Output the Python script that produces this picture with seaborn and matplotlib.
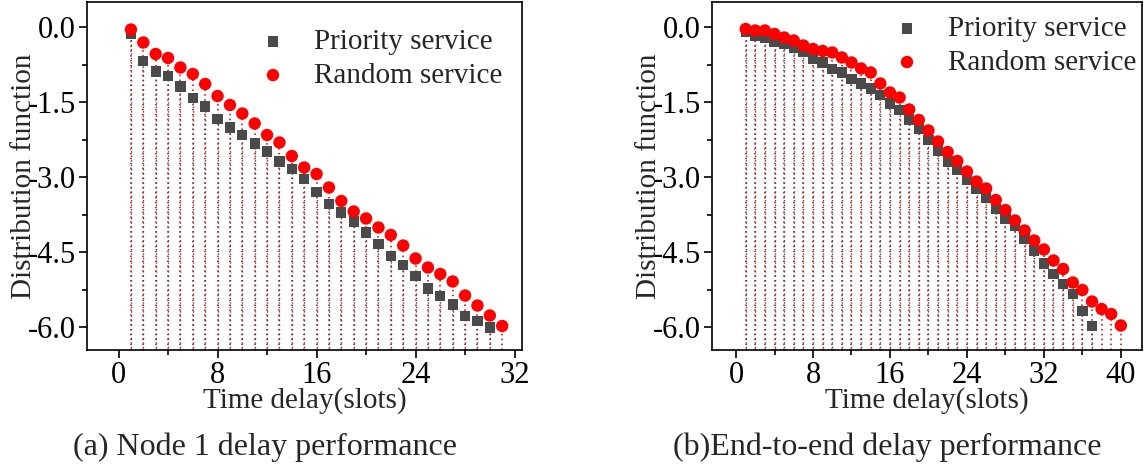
import numpy as np
import pandas as pd
import seaborn as sns
import matplotlib
matplotlib.use("Agg")
import matplotlib.pyplot as plt
from matplotlib.ticker import MultipleLocator, FormatStrFormatter

# ---------------- data ----------------
node_slots_priority = list(range(1, 31))
node_priority = [-0.14, -0.68, -0.89, -0.98, -1.19, -1.42, -1.59, -1.84, -2.01, -2.16,
                 -2.33, -2.49, -2.69, -2.84, -3.04, -3.30, -3.54, -3.71, -3.89, -4.11,
                 -4.34, -4.58, -4.76, -4.98, -5.23, -5.38, -5.55, -5.78, -5.88, -6.01]
node_slots_random = list(range(1, 32))
node_random = [-0.05, -0.31, -0.54, -0.62, -0.81, -0.94, -1.14, -1.38, -1.56, -1.73,
               -1.93, -2.16, -2.31, -2.58, -2.81, -2.94, -3.21, -3.48, -3.69, -3.83,
               -4.01, -4.16, -4.37, -4.63, -4.81, -4.94, -5.09, -5.37, -5.57, -5.77, -5.98]

e2e_slots_priority = list(range(1, 38))
e2e_priority = [-0.09, -0.17, -0.21, -0.29, -0.34, -0.41, -0.49, -0.63, -0.71, -0.84,
                -0.91, -1.04, -1.13, -1.23, -1.36, -1.53, -1.66, -1.85, -2.04, -2.26,
                -2.47, -2.69, -2.85, -3.05, -3.23, -3.41, -3.64, -3.83, -3.97, -4.23,
                -4.47, -4.73, -4.94, -5.14, -5.34, -5.68, -5.98]
e2e_slots_random = list(range(1, 41))
e2e_random = [-0.04, -0.07, -0.07, -0.14, -0.21, -0.27, -0.37, -0.44, -0.48, -0.51,
              -0.61, -0.71, -0.83, -0.91, -1.13, -1.31, -1.41, -1.65, -1.86, -2.07,
              -2.29, -2.50, -2.68, -2.89, -3.09, -3.23, -3.46, -3.66, -3.87, -4.07,
              -4.27, -4.45, -4.67, -4.84, -5.11, -5.26, -5.49, -5.64, -5.74, -5.97]

series_names = ["Priority service", "Random service"]
x_ticks_a = [0, 8, 16, 24, 32]
x_ticks_b = [0, 8, 16, 24, 32, 40]
y_ticks = [0.0, -1.5, -3.0, -4.5, -6.0]
x_label = "Time delay(slots)"
y_label = "Distribution function"
captions = ["(a) Node 1 delay performance", "(b)End-to-end delay performance"]

# ---------------- style ----------------
sns.set_theme(style="ticks")
plt.rcParams["font.family"] = ["Liberation Serif", "DejaVu Serif"]
plt.rcParams["axes.unicode_minus"] = False
FS = 21
TFS = 22

GRAY = "#4a4a4a"
RED = "#ff0000"

W, H = 1145, 474
fig = plt.figure(figsize=(W / 100, H / 100), dpi=100)
ax_a = fig.add_axes([87 / W, 1 - 350 / H, (522 - 87) / W, 348 / H])
ax_b = fig.add_axes([712 / W, 1 - 350 / H, (1142 - 712) / W, 348 / H])

YMIN, YMAX = -6.46, 0.5


def draw(ax, xp, yp, xr, yr, xlim, xticks, leg_px):
    # drop lines
    ax.vlines(xr, YMIN, yr, colors="#c00000", linestyles=(0, (1, 2.2)), linewidth=1.1, zorder=1)
    ax.vlines(xp, YMIN, yp, colors=GRAY, linestyles=(1.5, (1, 2.2)), linewidth=1.0, zorder=1)
    dfp = pd.DataFrame({"x": xp, "y": yp, "s": series_names[0]})
    dfr = pd.DataFrame({"x": xr, "y": yr, "s": series_names[1]})
    sns.scatterplot(data=dfp, x="x", y="y", ax=ax, marker="s", color=GRAY, s=55,
                    edgecolor="none", label=series_names[0], zorder=3)
    sns.scatterplot(data=dfr, x="x", y="y", ax=ax, marker="o", color=RED, s=80,
                    edgecolor="none", label=series_names[1], zorder=4)
    ax.set_xlim(*xlim)
    ax.set_ylim(YMIN, YMAX)
    ax.set_xticks(xticks)
    ax.set_yticks(y_ticks)
    ax.xaxis.set_minor_locator(MultipleLocator(4))
    ax.yaxis.set_minor_locator(MultipleLocator(0.75))
    ax.yaxis.set_major_formatter(FormatStrFormatter("%.1f"))
    ax.tick_params(axis="both", which="major", direction="out", length=6, width=1.2,
                   labelsize=TFS, color="black", labelcolor="black", pad=2)
    ax.tick_params(axis="both", which="minor", direction="out", length=3.5, width=1.2,
                   color="black")
    for sp in ax.spines.values():
        sp.set_linewidth(1.2)
        sp.set_color("black")
    ax.set_xlabel(x_label, fontsize=FS, labelpad=-2.5)
    ax.set_ylabel(y_label, fontsize=FS, labelpad=-7)
    ax.legend(loc="upper left", frameon=False, fontsize=FS, handlelength=1.0,
              handletextpad=0.9, borderpad=0, borderaxespad=0, labelspacing=0.25,
              bbox_to_anchor=(leg_px[0] / W, 1 - leg_px[1] / H),
              bbox_transform=fig.transFigure)


draw(ax_a, node_slots_priority, node_priority, node_slots_random, node_random,
     (-2.55, 32.6), x_ticks_a, (258.4, 28.6))
draw(ax_b, e2e_slots_priority, e2e_priority, e2e_slots_random, e2e_random,
     (-2.5, 42.2), x_ticks_b, (892.4, 15.6))

fig.text(265 / W, 1 - 447 / H, captions[0], fontsize=23, ha="center", va="center")
fig.text(887 / W, 1 - 447 / H, captions[1], fontsize=23, ha="center", va="center")

fig.savefig("out.png", dpi=100)
